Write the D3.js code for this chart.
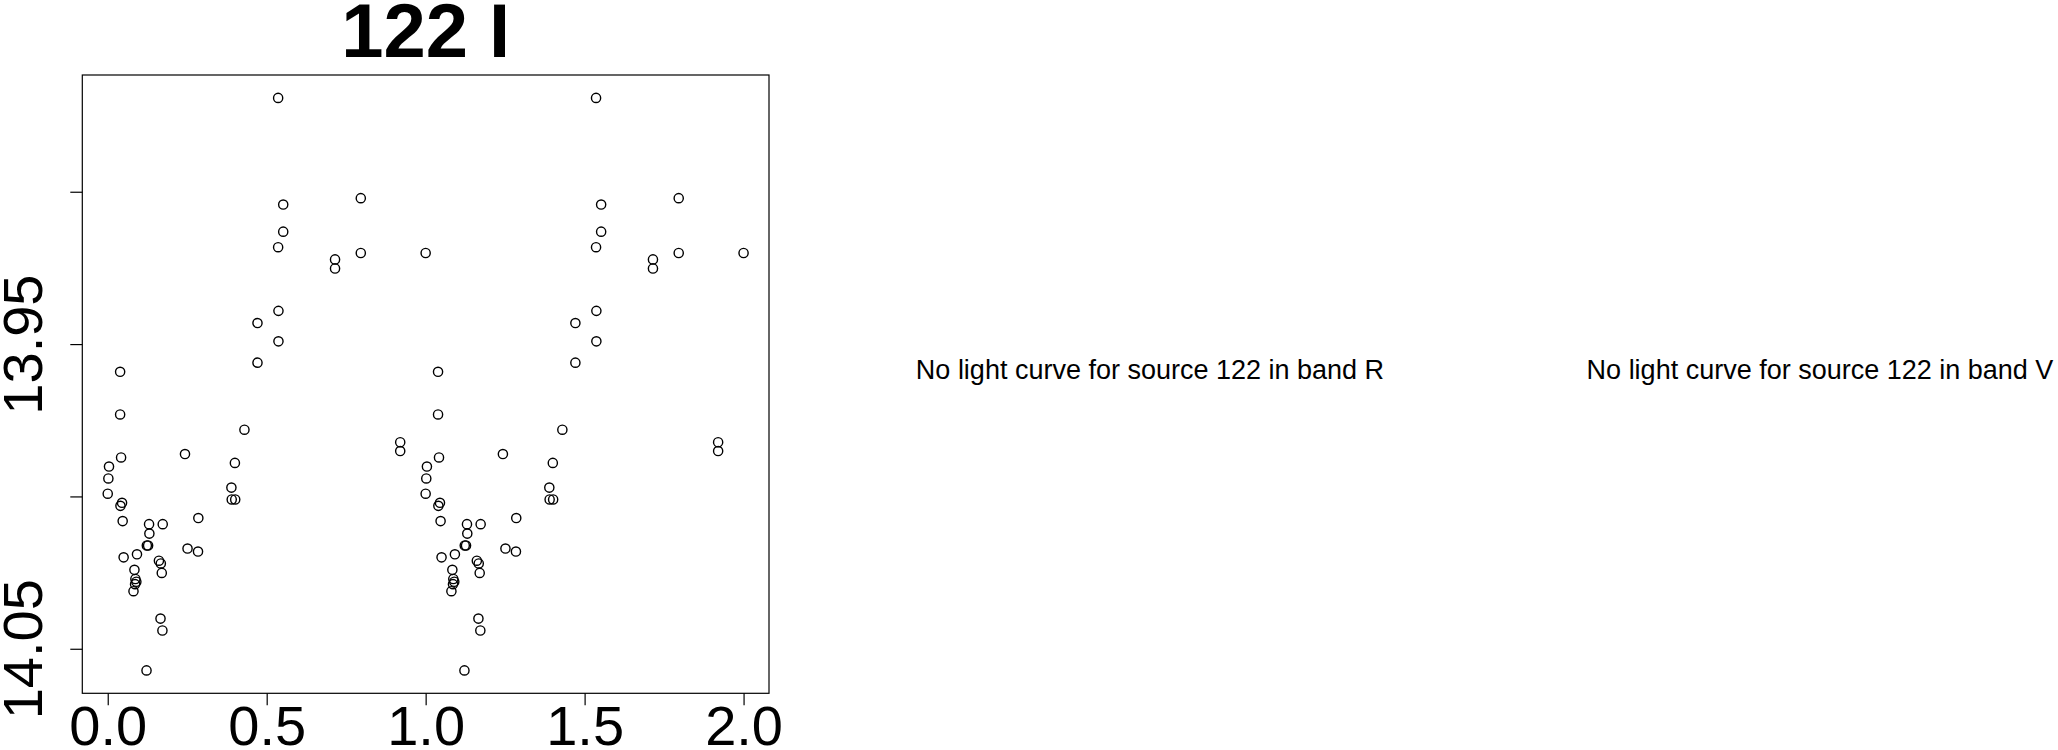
<!DOCTYPE html>
<html>
<head>
<meta charset="utf-8">
<script src="https://cdn.jsdelivr.net/npm/d3@7"></script>
<style>
  html, body { margin: 0; padding: 0; background: #fff; }
  svg { display: block; }
</style>
</head>
<body>
<svg id="chart" width="2058" height="750"></svg>
<script>
// ---- data (phase-folded light curve, source 122, band I) ----
const phases = [
  0.536, 0.552, 0.796, 0.552, 0.536, 0.715, 0.715, 0.796, 1.000, 0.537,
  0.471, 0.537, 0.471, 0.039, 0.039, 0.430, 0.042, 0.243, 0.920, 0.920,
  0.004, 0.400, 0.002, 0.000, 0.389, 0.390, 0.401, 0.045, 0.040, 0.047,
  0.285, 0.130, 0.173, 0.131, 0.123, 0.127, 0.251, 0.284, 0.050, 0.092,
  0.161, 0.167, 0.170, 0.084, 0.087, 0.090, 0.086, 0.081, 0.166, 0.172,
  0.122
];
const mags = [
  13.8692, 13.9042, 13.9021, 13.9131, 13.9182, 13.9222, 13.9252, 13.9201, 13.9201, 13.9391,
  13.9431, 13.9491, 13.9561, 13.9591, 13.9731, 13.9781, 13.9872, 13.9861, 13.9822, 13.9851,
  13.9902, 13.9890, 13.9941, 13.9991, 13.9971, 14.0010, 14.0010, 14.0021, 14.0031, 14.0081,
  14.0071, 14.0091, 14.0091, 14.0122, 14.0161, 14.0161, 14.0171, 14.0181, 14.0200, 14.0190,
  14.0211, 14.0220, 14.0251, 14.0241, 14.0271, 14.0280, 14.0288, 14.0311, 14.0401, 14.0440,
  14.0571
];
const cycles = [0, 1];
const xTicks = [0.0, 0.5, 1.0, 1.5, 2.0];
const xTickLabels = ["0.0", "0.5", "1.0", "1.5", "2.0"];
const yTicks = [13.90, 13.95, 14.00, 14.05];
const yTickLabels = ["", "13.95", "", "14.05"];
const title = "122 I";
const missingBands = ["R", "V"];
const sourceId = "122";

// ---- layout ----
const box = { left: 82.3, right: 769, top: 75, bottom: 693.3 };
const FONT = "'Liberation Sans', Arial, Helvetica, sans-serif";

const svg = d3.select("#chart");

// points: each phase drawn at phase and phase + 1
const pts = [];
cycles.forEach(c => phases.forEach((p, i) => pts.push({ x: p + c, y: mags[i] })));

// R-style 4% padding of data ranges
function padded(ext) { const r = ext[1] - ext[0]; return [ext[0] - 0.04 * r, ext[1] + 0.04 * r]; }
const xDom = padded(d3.extent(pts, d => d.x));
const yDom = padded(d3.extent(pts, d => d.y));

const x = d3.scaleLinear().domain(xDom).range([box.left, box.right]);
const y = d3.scaleLinear().domain(yDom).range([box.top, box.bottom]); // magnitudes: bright at top

// frame
svg.append("rect")
  .attr("x", box.left).attr("y", box.top)
  .attr("width", box.right - box.left).attr("height", box.bottom - box.top)
  .attr("fill", "none").attr("stroke", "#000").attr("stroke-width", 1.2);

// x axis
const gx = svg.append("g")
  .attr("transform", `translate(0,${box.bottom})`)
  .call(d3.axisBottom(x).tickValues(xTicks).tickSize(12)
        .tickFormat((d, i) => xTickLabels[i]));
gx.select(".domain").remove();
gx.selectAll(".tick line").attr("stroke", "#000").attr("stroke-width", 1.2);
gx.selectAll(".tick text")
  .attr("y", 745 - box.bottom).attr("dy", null)
  .attr("fill", "#000")
  .style("font-family", FONT).style("font-size", "56px");

// y axis
const gy = svg.append("g")
  .attr("transform", `translate(${box.left},0)`)
  .call(d3.axisLeft(y).tickValues(yTicks).tickSize(12)
        .tickFormat((d, i) => yTickLabels[i]));
gy.select(".domain").remove();
gy.selectAll(".tick line").attr("stroke", "#000").attr("stroke-width", 1.2);
gy.selectAll(".tick text")
  .attr("x", null).attr("dy", null)
  .attr("text-anchor", "middle")
  .attr("transform", `translate(${42 - box.left},0) rotate(-90)`)
  .attr("fill", "#000")
  .style("font-family", FONT).style("font-size", "56px");

// points
svg.append("g").selectAll("circle")
  .data(pts).join("circle")
  .attr("cx", d => x(d.x)).attr("cy", d => y(d.y))
  .attr("r", 4.6)
  .attr("fill", "none").attr("stroke", "#000").attr("stroke-width", 1.4);

// title
svg.append("text")
  .attr("x", (box.left + box.right) / 2).attr("y", 57)
  .attr("text-anchor", "middle")
  .style("font-family", FONT).style("font-size", "76px").style("font-weight", "bold")
  .text(title);

// messages for missing bands
const msgX = [1150, 1820];
missingBands.forEach((b, i) => {
  svg.append("text")
    .attr("x", msgX[i]).attr("y", 378.5)
    .attr("text-anchor", "middle")
    .style("font-family", FONT).style("font-size", "27px")
    .text(`No light curve for source ${sourceId} in band ${b}`);
});
</script>
</body>
</html>
